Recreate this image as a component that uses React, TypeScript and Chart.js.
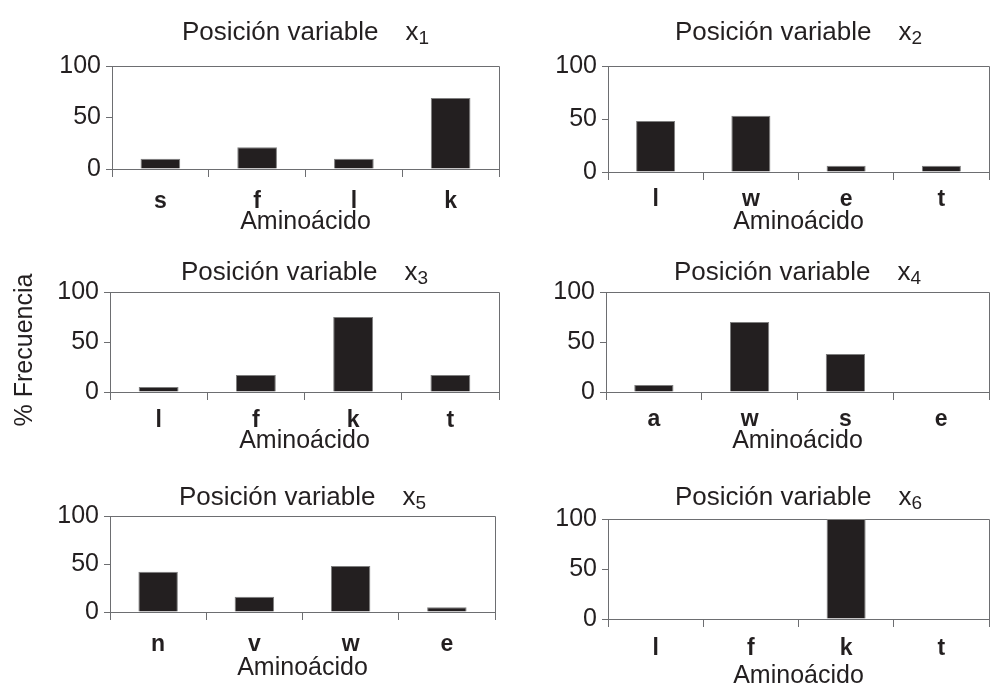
import React, { useEffect, useRef } from "react";
import { Chart, registerables } from "chart.js";
Chart.register(...registerables);

// ---- data ----
const titlePrefix = "Posición variable";
const titleVar = "x";
const subscripts = ["1", "2", "3", "4", "5", "6"];
const xAxisTitle = "Aminoácido";
const yAxisTitle = "% Frecuencia";
const yTicks = [0, 50, 100];

const cats1 = ["s", "f", "l", "k"];
const vals1 = [10, 21, 10, 69];
const cats2 = ["l", "w", "e", "t"];
const vals2 = [48, 53, 6, 6];
const cats3 = ["l", "f", "k", "t"];
const vals3 = [5, 17, 75, 17];
const cats4 = ["a", "w", "s", "e"];
const vals4 = [7, 70, 38, 0];
const cats5 = ["n", "v", "w", "e"];
const vals5 = [42, 16, 48, 5];
const cats6 = ["l", "f", "k", "t"];
const vals6 = [0, 0, 100, 0];

// ---- layout (page pixels) ----
type Layout = {
  colLeft: number; L: number; R: number; T: number; B: number;
  titleY: number; catY: number; axY: number;
};
const layouts: Layout[] = [
  { colLeft: 0, L: 112, R: 499, T: 66, B: 169, titleY: 32, catY: 202, axY: 222 },
  { colLeft: 500, L: 608, R: 989, T: 66, B: 172, titleY: 32, catY: 200, axY: 222 },
  { colLeft: 0, L: 110, R: 499, T: 292, B: 392, titleY: 272, catY: 421, axY: 441 },
  { colLeft: 500, L: 606, R: 989, T: 292, B: 392, titleY: 272, catY: 420, axY: 441 },
  { colLeft: 0, L: 110, R: 495, T: 516, B: 612, titleY: 497, catY: 645, axY: 668 },
  { colLeft: 500, L: 608, R: 989, T: 519, B: 619, titleY: 497, catY: 649, axY: 676 },
];

const FONT = "'Liberation Sans', Arial, Helvetica, sans-serif";
const TEXT = "#231f20";
const AXIS = "#6d6e71";
const TITLE_SIZE = 26;
const SUB_SIZE = 19;
const TICK_SIZE = 25;
const CAT_SIZE = 23;
const AX_SIZE = 25;
const XTL = 8;
const YTL = 6;
const TITLE_GAP = 27;

const framePlugin = {
  id: "frame",
  beforeDatasetsDraw(chart: any) {
    const { ctx, chartArea } = chart;
    ctx.save();
    ctx.strokeStyle = AXIS;
    ctx.lineWidth = 1;
    ctx.beginPath();
    ctx.moveTo(chartArea.left, chartArea.top + 0.5);
    ctx.lineTo(chartArea.right + 0.5, chartArea.top + 0.5);
    ctx.lineTo(chartArea.right + 0.5, chartArea.bottom);
    ctx.stroke();
    ctx.restore();
  },
};

const subTitlePlugin = {
  id: "subTitle",
  afterDraw(chart: any, _args: any, opts: any) {
    const { ctx, chartArea } = chart;
    ctx.save();
    ctx.fillStyle = TEXT;
    ctx.textBaseline = "alphabetic";
    ctx.textAlign = "left";
    ctx.font = `${TITLE_SIZE}px ${FONT}`;
    const w1 = ctx.measureText(opts.prefix).width;
    const wx = ctx.measureText(opts.variable).width;
    ctx.font = `${SUB_SIZE}px ${FONT}`;
    const ws = ctx.measureText(opts.sub).width;
    const total = w1 + TITLE_GAP + wx + ws;
    const cx = (chartArea.left + chartArea.right) / 2;
    let x = cx - total / 2;
    const base = opts.baseline;
    ctx.font = `${TITLE_SIZE}px ${FONT}`;
    ctx.fillText(opts.prefix, x, base);
    x += w1 + TITLE_GAP;
    ctx.fillText(opts.variable, x, base);
    x += wx;
    ctx.font = `${SUB_SIZE}px ${FONT}`;
    ctx.fillText(opts.sub, x, base + 4);
    ctx.restore();
  },
};

function Panel({ cats, vals, sub, lay }: { cats: string[]; vals: number[]; sub: string; lay: Layout }) {
  const ref = useRef<HTMLCanvasElement | null>(null);
  const canvasLeft = lay.colLeft;
  const canvasRight = lay.R + 2;
  const canvasTop = Math.round(lay.titleY - TITLE_SIZE / 2);
  const canvasBottom = Math.round(lay.axY + AX_SIZE / 2);
  const width = canvasRight - canvasLeft;
  const height = canvasBottom - canvasTop;

  useEffect(() => {
    if (!ref.current) return;
    const yW = lay.L - canvasLeft;
    const xH = canvasBottom - lay.B;
    const xPad = lay.catY - lay.B - XTL - CAT_SIZE / 2;
    const chart = new Chart(ref.current, {
      type: "bar",
      data: {
        labels: cats,
        datasets: [
          {
            data: vals,
            backgroundColor: "#231f20",
            borderColor: "#7f7f7f",
            borderWidth: 1,
            categoryPercentage: 1,
            barPercentage: 0.41,
          },
        ],
      },
      options: {
        responsive: false,
        animation: false,
        devicePixelRatio: 1,
        layout: { padding: { top: lay.T - canvasTop, left: 0, right: 2, bottom: 0 } },
        plugins: {
          legend: { display: false },
          tooltip: { enabled: false },
          title: { display: false },
          subTitle: {
            prefix: titlePrefix,
            variable: titleVar,
            sub,
            baseline: lay.titleY + 8 - canvasTop,
          },
        },
        scales: {
          x: {
            grid: {
              display: true,
              drawOnChartArea: false,
              drawTicks: true,
              tickLength: XTL,
              offset: true,
              color: AXIS,
              lineWidth: 1,
            },
            border: { display: true, color: AXIS, width: 1 },
            ticks: {
              color: TEXT,
              font: { family: FONT, size: CAT_SIZE, weight: "bold", lineHeight: 1 },
              padding: xPad,
              maxRotation: 0,
              autoSkip: false,
            },
            title: {
              display: true,
              text: xAxisTitle,
              color: TEXT,
              font: { family: FONT, size: AX_SIZE, lineHeight: 1 },
              padding: 0,
            },
            afterFit: (s: any) => {
              s.height = xH;
            },
          },
          y: {
            min: 0,
            max: 100,
            grid: {
              display: true,
              drawOnChartArea: false,
              drawTicks: true,
              tickLength: YTL,
              color: AXIS,
              lineWidth: 1,
            },
            border: { display: true, color: AXIS, width: 1 },
            ticks: {
              color: TEXT,
              font: { family: FONT, size: TICK_SIZE, lineHeight: 1 },
              padding: 5,
            },
            afterBuildTicks: (s: any) => {
              s.ticks = yTicks.map((v) => ({ value: v }));
            },
            afterFit: (s: any) => {
              s.width = yW;
            },
          },
        },
      } as any,
      plugins: [framePlugin, subTitlePlugin],
    });
    return () => chart.destroy();
  }, []);

  return (
    <canvas
      ref={ref}
      width={width}
      height={height}
      style={{ position: "absolute", left: canvasLeft, top: canvasTop, width, height }}
    />
  );
}

export default function App() {
  const panels = [
    { cats: cats1, vals: vals1 },
    { cats: cats2, vals: vals2 },
    { cats: cats3, vals: vals3 },
    { cats: cats4, vals: vals4 },
    { cats: cats5, vals: vals5 },
    { cats: cats6, vals: vals6 },
  ];
  return (
    <div
      style={{
        position: "absolute",
        left: 0,
        top: 0,
        width: 990,
        height: 686,
        background: "#ffffff",
        overflow: "hidden",
      }}
    >
      {panels.map((p, i) => (
        <Panel key={i} cats={p.cats} vals={p.vals} sub={subscripts[i]} lay={layouts[i]} />
      ))}
      <div
        style={{
          position: "absolute",
          left: 22.5 - 110,
          top: 350 - 15,
          width: 220,
          height: 30,
          lineHeight: "30px",
          textAlign: "center",
          transform: "rotate(-90deg)",
          fontFamily: FONT,
          fontSize: 25,
          color: TEXT,
          whiteSpace: "nowrap",
        }}
      >
        {yAxisTitle}
      </div>
    </div>
  );
}
